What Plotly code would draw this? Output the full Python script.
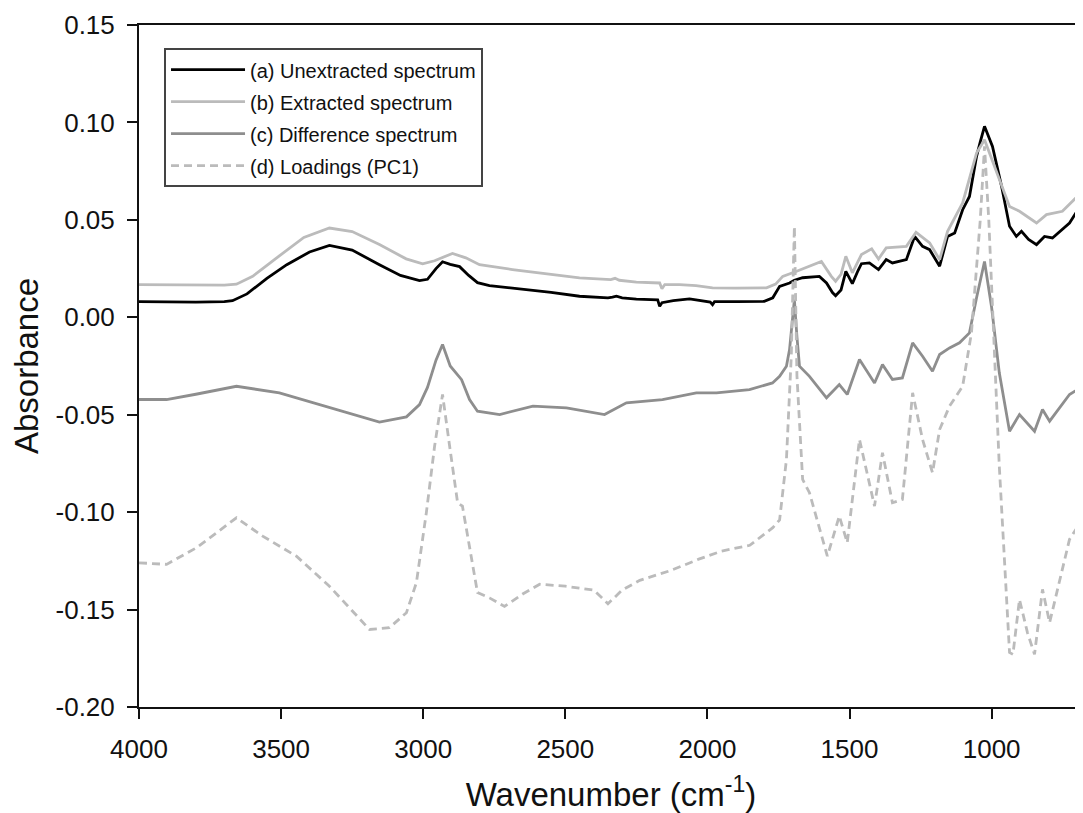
import plotly.graph_objects as go

# (a) Unextracted spectrum
wn_a = [4000, 3900, 3800, 3700, 3671, 3620, 3550, 3480, 3400, 3330, 3250, 3154, 3080, 3013, 2985,
        2955, 2932, 2905, 2872, 2840, 2809, 2767, 2700, 2650, 2550, 2450, 2350, 2334, 2320, 2300,
        2250, 2175, 2168, 2160, 2120, 2063, 2010, 1990, 1982, 1975, 1900, 1800, 1770, 1746, 1711,
        1694, 1665, 1640, 1606, 1581, 1560, 1549, 1530, 1513, 1500, 1490, 1470, 1458, 1430, 1398,
        1371, 1349, 1300, 1271, 1243, 1218, 1183, 1155, 1130, 1102, 1078, 1053, 1040, 1025, 997,
        965, 937, 913, 895, 870, 842, 814, 786, 726, 681]
abs_a = [0.0080, 0.0078, 0.0078, 0.0080, 0.0085, 0.0120, 0.0200, 0.0270, 0.0335, 0.0369, 0.0345,
         0.0270, 0.0215, 0.0188, 0.0195, 0.0250, 0.0285, 0.0272, 0.0260, 0.0215, 0.0178, 0.0163,
         0.0152, 0.0146, 0.0128, 0.0108, 0.0100, 0.0103, 0.0108, 0.0100, 0.0093, 0.0090, 0.0056,
         0.0075, 0.0085, 0.0094, 0.0085, 0.0078, 0.0065, 0.0080, 0.0080, 0.0082, 0.0100, 0.0159,
         0.0176, 0.0190, 0.0203, 0.0205, 0.0210, 0.0176, 0.0127, 0.0111, 0.0140, 0.0236, 0.0200,
         0.0173, 0.0240, 0.0275, 0.0279, 0.0245, 0.0296, 0.0279, 0.0296, 0.0415, 0.0364, 0.0347,
         0.0262, 0.0415, 0.0433, 0.0552, 0.0620, 0.0826, 0.0900, 0.0980, 0.0877, 0.0672, 0.0467,
         0.0415, 0.0441, 0.0400, 0.0373, 0.0415, 0.0407, 0.0484, 0.0587]

# (b) Extracted spectrum
wn_b = [4000, 3800, 3700, 3657, 3600, 3520, 3420, 3330, 3250, 3154, 3060, 3002, 2960, 2897, 2850,
        2802, 2686, 2550, 2450, 2340, 2325, 2310, 2250, 2168, 2160, 2150, 2098, 2040, 1982, 1900,
        1792, 1760, 1735, 1686, 1630, 1599, 1564, 1549, 1530, 1513, 1490, 1458, 1422, 1398, 1371,
        1300, 1266, 1218, 1183, 1155, 1102, 1053, 1025, 985, 937, 902, 842, 807, 751, 681]
abs_b = [0.0168, 0.0165, 0.0165, 0.0170, 0.0210, 0.0300, 0.0410, 0.0458, 0.0440, 0.0373, 0.0300,
         0.0274, 0.0290, 0.0328, 0.0305, 0.0270, 0.0245, 0.0220, 0.0202, 0.0193, 0.0200, 0.0190,
         0.0180, 0.0176, 0.0146, 0.0168, 0.0168, 0.0162, 0.0151, 0.0150, 0.0151, 0.0170, 0.0210,
         0.0236, 0.0270, 0.0287, 0.0210, 0.0185, 0.0220, 0.0313, 0.0228, 0.0322, 0.0351, 0.0299,
         0.0356, 0.0364, 0.0436, 0.0382, 0.0296, 0.0441, 0.0587, 0.0843, 0.0911, 0.0757, 0.0569,
         0.0544, 0.0484, 0.0527, 0.0544, 0.0646]

# (c) Difference spectrum
wn_c = [4000, 3903, 3800, 3657, 3506, 3330, 3154, 3059, 3013, 2985, 2955, 2932, 2905, 2865, 2837,
        2809, 2731, 2614, 2496, 2362, 2285, 2158, 2039, 1968, 1852, 1771, 1746, 1722, 1711, 1700,
        1694, 1685, 1676, 1641, 1581, 1536, 1508, 1465, 1412, 1384, 1349, 1314, 1278, 1243, 1208,
        1183, 1148, 1113, 1078, 1053, 1025, 1000, 973, 937, 902, 849, 821, 796, 726, 681]
abs_c = [-0.0422, -0.0422, -0.0395, -0.0354, -0.0388, -0.0465, -0.0538, -0.0511, -0.0448, -0.0360,
         -0.0220, -0.0140, -0.0250, -0.0320, -0.0422, -0.0482, -0.0499, -0.0456, -0.0465, -0.0499,
         -0.0439, -0.0422, -0.0388, -0.0388, -0.0371, -0.0337, -0.0303, -0.0251, -0.0166, 0.0000,
         0.0090, -0.0100, -0.0251, -0.0303, -0.0413, -0.0345, -0.0396, -0.0217, -0.0337, -0.0243,
         -0.0319, -0.0311, -0.0131, -0.0200, -0.0277, -0.0191, -0.0157, -0.0131, -0.0080, 0.0100,
         0.0286, 0.0050, -0.0285, -0.0585, -0.0499, -0.0585, -0.0473, -0.0533, -0.0396, -0.0357]

# (d) Loadings (PC1)
wn_d = [4000, 3903, 3798, 3657, 3565, 3446, 3330, 3189, 3119, 3059, 3024, 2989, 2960, 2932, 2907,
        2879, 2862, 2837, 2809, 2767, 2714, 2650, 2590, 2500, 2400, 2350, 2300, 2238, 2130, 2028,
        1950, 1851, 1770, 1746, 1722, 1705, 1694, 1685, 1665, 1641, 1578, 1536, 1508, 1465, 1412,
        1384, 1349, 1314, 1278, 1243, 1208, 1183, 1148, 1102, 1071, 1040, 1025, 1010, 992, 973,
        937, 925, 902, 874, 849, 821, 796, 726, 681]
abs_d = [-0.1260, -0.1268, -0.1183, -0.1029, -0.1123, -0.1226, -0.1380, -0.1602, -0.1593, -0.1516,
         -0.1362, -0.1003, -0.0662, -0.0396, -0.0662, -0.0952, -0.0969, -0.1174, -0.1413, -0.1440,
         -0.1484, -0.1420, -0.1370, -0.1380, -0.1400, -0.1470, -0.1400, -0.1350, -0.1300, -0.1240,
         -0.1200, -0.1170, -0.1080, -0.1040, -0.0730, -0.0200, 0.0467, -0.0300, -0.0832, -0.0900,
         -0.1226, -0.1020, -0.1157, -0.0627, -0.0969, -0.0695, -0.0952, -0.0935, -0.0388, -0.0627,
         -0.0798, -0.0576, -0.0456, -0.0354, -0.0080, 0.0500, 0.0877, 0.0500, -0.0080, -0.0764,
         -0.1720, -0.1730, -0.1448, -0.1618, -0.1730, -0.1396, -0.1567, -0.1140, -0.1037]

names = ["(a) Unextracted spectrum", "(b) Extracted spectrum",
         "(c) Difference spectrum", "(d) Loadings (PC1)"]

x_ticks = [4000, 3500, 3000, 2500, 2000, 1500, 1000]
y_ticks = [0.15, 0.10, 0.05, 0.00, -0.05, -0.10, -0.15, -0.20]

FONT = "Liberation Sans, Arial, sans-serif"
INK = "#111111"

fig = go.Figure()
series = [
    (wn_a, abs_a, names[0], "#000000", "solid"),
    (wn_b, abs_b, names[1], "#bbbbbb", "solid"),
    (wn_c, abs_c, names[2], "#8e8e8e", "solid"),
    (wn_d, abs_d, names[3], "#bbbbbb", "8px,5px"),
]
for i, (x, y, n, c, d) in enumerate(series):
    fig.add_trace(go.Scatter(x=x, y=y, mode="lines", name=n, legendgroup=f"g{i}",
                             line=dict(color=c, width=2.8, dash=d)))

fig.update_layout(
    width=1075, height=805,
    margin=dict(l=131, r=0, t=17, b=106),
    paper_bgcolor="white", plot_bgcolor="white",
    font=dict(family=FONT, color=INK),
    showlegend=True,
    legend=dict(x=0.0265, y=0.966, xanchor="left", yanchor="top",
                bgcolor="white", bordercolor="#444444", borderwidth=2,
                font=dict(size=20, family=FONT, color=INK),
                tracegroupgap=3, itemwidth=74),
    xaxis=dict(range=[4000, 678.5], tickvals=x_ticks, ticktext=[str(v) for v in x_ticks],
               showgrid=False, zeroline=False, showline=True, linecolor=INK, linewidth=2,
               mirror=True, ticks="outside", ticklen=10, tickwidth=2, tickcolor=INK,
               ticklabelstandoff=8,
               tickfont=dict(size=26, family=FONT, color=INK),
               title=dict(text="Wavenumber (cm<sup>-1</sup>)", font=dict(size=33, family=FONT, color=INK),
                          standoff=21)),
    yaxis=dict(range=[-0.20, 0.15], tickvals=y_ticks, ticktext=[f"{v:.2f}" for v in y_ticks],
               showgrid=False, zeroline=False, showline=True, linecolor=INK, linewidth=2,
               ticks="outside", ticklen=10, tickwidth=2, tickcolor=INK,
               ticklabelstandoff=7,
               tickfont=dict(size=26, family=FONT, color=INK),
               title=dict(text="Absorbance", font=dict(size=33, family=FONT, color=INK),
                          standoff=14)),
)

fig.write_html("out.html")
